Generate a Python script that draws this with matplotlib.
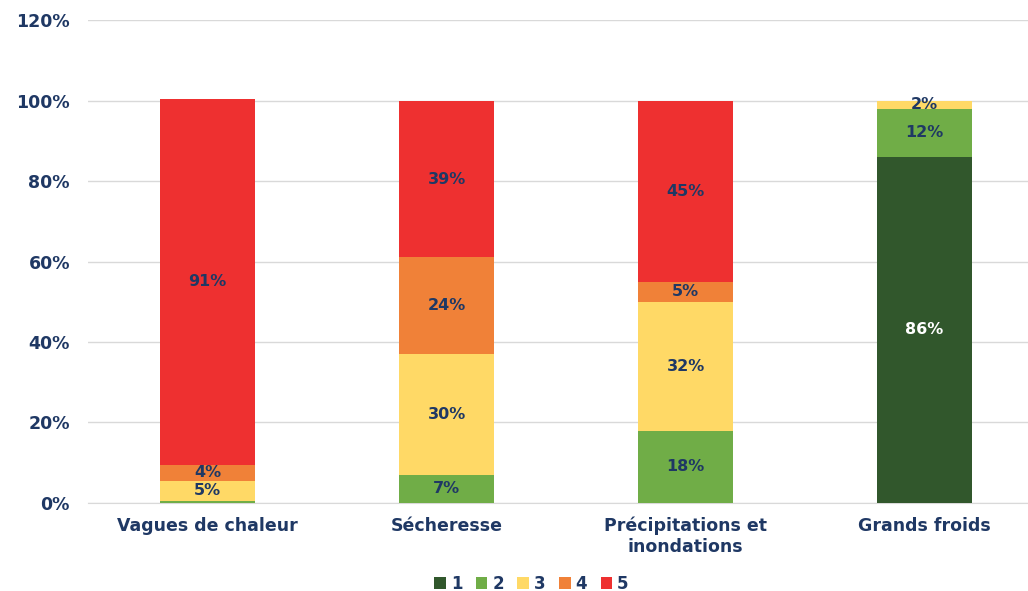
import numpy as np
import matplotlib.pyplot as plt

categories = ["Vagues de chaleur", "Sécheresse", "Précipitations et\ninondations", "Grands froids"]
niveaux = ["1", "2", "3", "4", "5"]

# parts (%) par niveau, une liste par niveau
niveau_1 = [0, 0, 0, 86]
niveau_2 = [0.5, 7, 18, 12]
niveau_3 = [5, 30, 32, 2]
niveau_4 = [4, 24, 5, 0]
niveau_5 = [91, 39, 45, 0]

# étiquettes affichées (None = pas d'étiquette)
labels_1 = [None, None, None, "86%"]
labels_2 = [None, "7%", "18%", "12%"]
labels_3 = ["5%", "30%", "32%", "2%"]
labels_4 = ["4%", "24%", "5%", None]
labels_5 = ["91%", "39%", "45%", None]

couleurs = ["#31572C", "#70AD47", "#FFD966", "#F08138", "#EE3030"]
texte = "#1F3864"

series = [niveau_1, niveau_2, niveau_3, niveau_4, niveau_5]
etiquettes = [labels_1, labels_2, labels_3, labels_4, labels_5]

fig = plt.figure(figsize=(10.28, 5.91), dpi=100)
ax = fig.add_axes([0.0856, 0.149, 0.93, 0.817])

x = np.arange(len(categories))
bas = np.zeros(len(categories))
for i, (vals, labs) in enumerate(zip(series, etiquettes)):
    vals = np.array(vals, dtype=float)
    bars = ax.bar(x, vals, bottom=bas, width=0.4, color=couleurs[i], label=niveaux[i], zorder=3)
    for j, b in enumerate(bars):
        if labs[j] is None:
            continue
        c = "white" if i == 0 else texte
        ax.text(b.get_x() + b.get_width() / 2, bas[j] + vals[j] / 2, labs[j],
                ha="center", va="center", fontsize=11.5, fontweight="bold", color=c, zorder=4)
    bas += vals

ax.set_xlim(-0.5, len(categories) - 0.5)
ax.set_ylim(0, 120)
ax.set_yticks(np.arange(0, 121, 20))
ax.set_yticklabels([f"{v}%" for v in range(0, 121, 20)])
ax.set_xticks(x)
ax.set_xticklabels(categories)
ax.yaxis.grid(True, color="#D9D9D9", linewidth=1, zorder=0)
for s in ["top", "right", "left"]:
    ax.spines[s].set_visible(False)
ax.spines["bottom"].set_color("#D9D9D9")
ax.tick_params(axis="both", length=0, colors=texte, labelsize=12.5)
ax.tick_params(axis="y", pad=13)
ax.tick_params(axis="x", pad=10)
for t in ax.get_xticklabels() + ax.get_yticklabels():
    t.set_fontweight("bold")
    t.set_color(texte)

leg = fig.legend(loc="center", bbox_to_anchor=(0.517, 0.012), ncol=5, frameon=False,
                 handlelength=0.7, handleheight=0.7, handletextpad=0.3, columnspacing=0.8,
                 borderpad=0.1, prop={"weight": "bold", "size": 12})
for t in leg.get_texts():
    t.set_color(texte)

fig.savefig("out.png", dpi=100)
